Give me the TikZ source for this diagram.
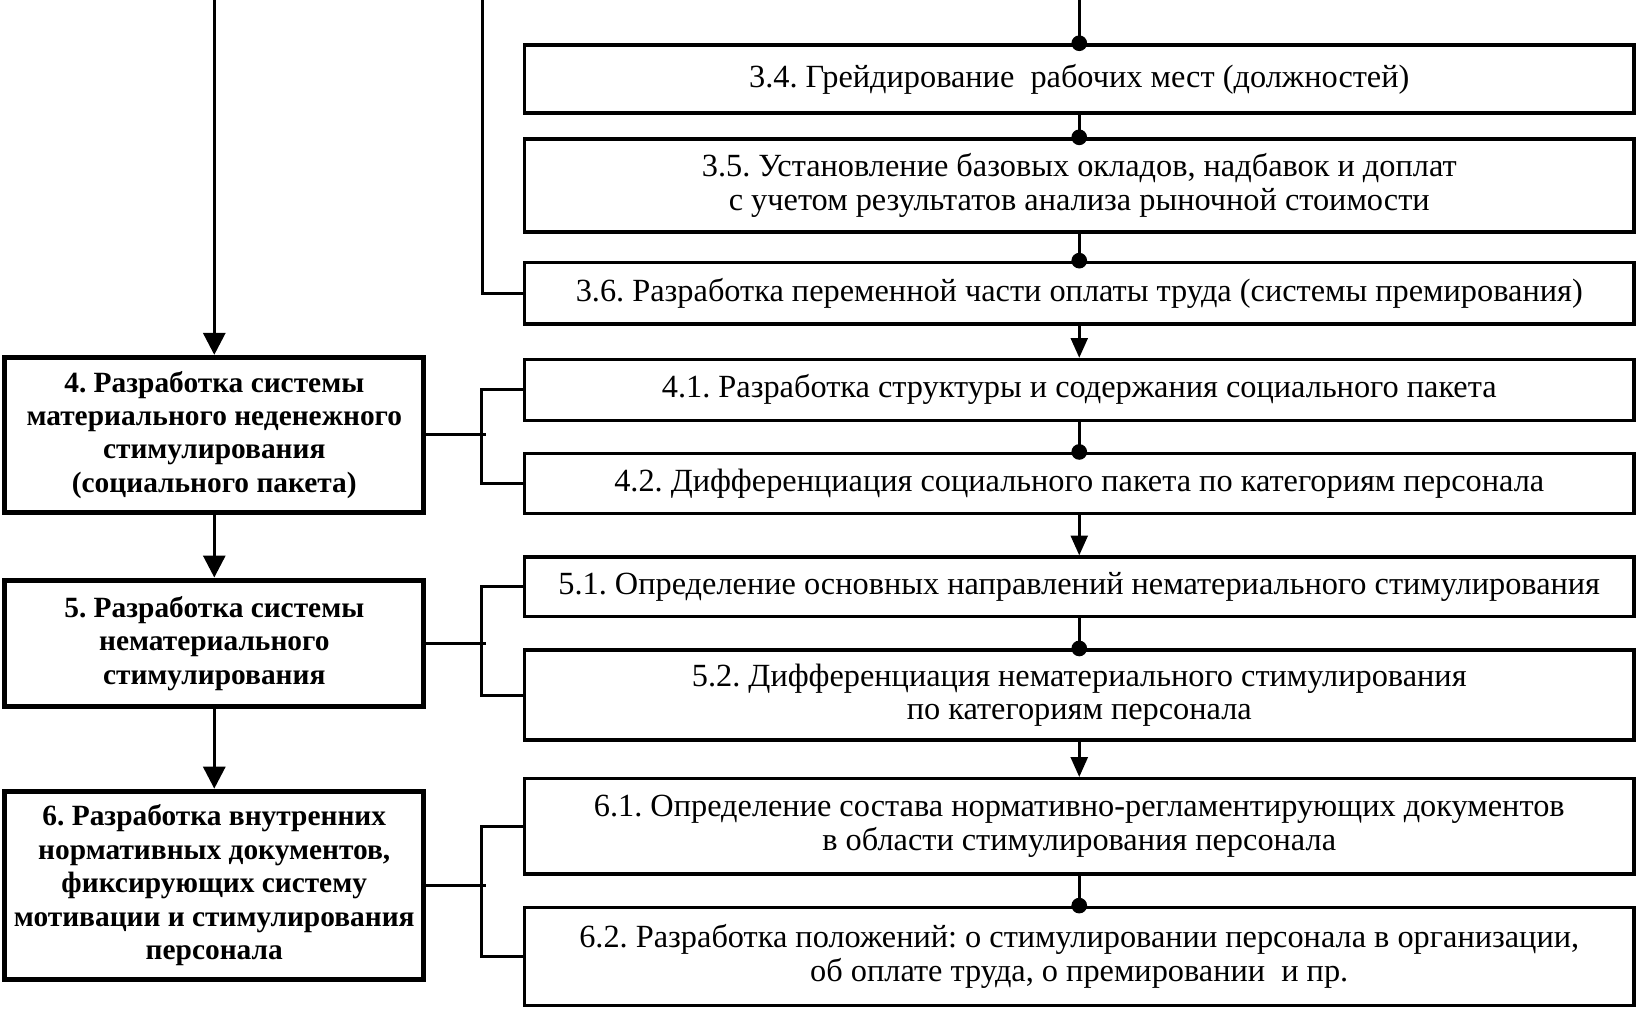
\documentclass[tikz,border=0pt]{standalone}
\usepackage{fontspec}
\setmainfont{Liberation Serif}
\usetikzlibrary{arrows.meta}
\frenchspacing

\begin{document}
\begin{tikzpicture}[
            x=0.2mm, y=-0.2mm,
            line width=0.6mm,
            stage/.style={draw, line width=1mm, align=center, inner sep=0pt,
                minimum width=80.2mm, font=\fontsize{16}{18.2}\selectfont\bfseries},
            substage/.style={draw, line width=0.65mm, align=center, inner sep=0pt,
                minimum width=212.2mm, font=\fontsize{17.6}{18.2}\selectfont},
            bigarrow/.style={-{Triangle[length=4.2mm,width=4.2mm]}},
            smallarrow/.style={-{Triangle[length=3.8mm,width=3.2mm]}}
            ]
            \useasboundingbox (0,0) rectangle (1568,966);
            \coordinate (inL) at (205,0);
            \coordinate (inM) at (462,0);
            \coordinate (inR) at (1032.5,0);

            \node[stage, minimum height=29.6mm] (s4) at (205,416)
                {4. Разработка системы\\материального неденежного\\стимулирования\\(социального пакета)};
            \node[stage, minimum height=24.2mm] (s5) at (205,615.5)
                {5. Разработка системы\\нематериального\\стимулирования};
            \node[stage, minimum height=36mm] (s6) at (205,847)
                {6. Разработка внутренних\\нормативных документов,\\фиксирующих систему\\мотивации и стимулирования\\персонала};

            \node[substage, minimum height=13mm] (r34) at (1032.5,75.5)
                {3.4. Грейдирование~ рабочих мест (должностей)};
            \node[substage, minimum height=17.8mm] (r35) at (1032.5,177.5)
                {3.5. Установление базовых окладов, надбавок и доплат\\с учетом результатов анализа рыночной стоимости};
            \node[substage, minimum height=11.8mm] (r36) at (1032.5,280.5)
                {3.6. Разработка переменной части оплаты труда (системы премирования)};
            \node[substage, minimum height=11.6mm] (r41) at (1032.5,373)
                {4.1. Разработка структуры и содержания социального пакета};
            \node[substage, minimum height=11.4mm] (r42) at (1032.5,462.5)
                {4.2. Дифференциация социального пакета по категориям персонала};
            \node[substage, minimum height=11.4mm] (r51) at (1032.5,561.5)
                {5.1. Определение основных направлений нематериального стимулирования};
            \node[substage, minimum height=17.2mm] (r52) at (1032.5,665)
                {5.2. Дифференциация нематериального стимулирования\\по категориям персонала};
            \node[substage, minimum height=18.2mm] (r61) at (1032.5,790.5)
                {6.1. Определение состава нормативно-регламентирующих документов\\в области стимулирования персонала};
            \node[substage, minimum height=18.8mm] (r62) at (1032.5,915)
                {6.2. Разработка положений: о стимулировании персонала в организации,\\об оплате труда, о премировании~ и пр.};

            \draw[bigarrow] (inL) -- (s4.north);
            \draw[bigarrow] (s4.south) -- (s5.north);
            \draw[bigarrow] (s5.south) -- (s6.north);

            \draw (inM) |- (r36.west);
            \draw (inR) -- (r34.north);
            \draw (r34) -- (r35);
            \draw (r35) -- (r36);
            \draw[smallarrow] (r36) -- (r41);
            \draw (r41) -- (r42);
            \draw[smallarrow] (r42) -- (r51);
            \draw (r51) -- (r52);
            \draw[smallarrow] (r52) -- (r61);
            \draw (r61) -- (r62);
            \fill (r34.north) circle[radius=1.5mm];
            \fill (r35.north) circle[radius=1.5mm];
            \fill (r36.north) circle[radius=1.5mm];
            \fill (r42.north) circle[radius=1.5mm];
            \fill (r52.north) circle[radius=1.5mm];
            \fill (r62.north) circle[radius=1.5mm];

            \draw (s4.east) -- ++(57,0);
            \draw (r41.west) -- ++(-40,0) |- (r42.west);
            \draw (s5.east) -- ++(57,0);
            \draw (r51.west) -- ++(-40,0) |- (r52.west);
            \draw (s6.east) -- ++(57,0);
            \draw (r61.west) -- ++(-40,0) |- (r62.west);
\end{tikzpicture}
\end{document}
